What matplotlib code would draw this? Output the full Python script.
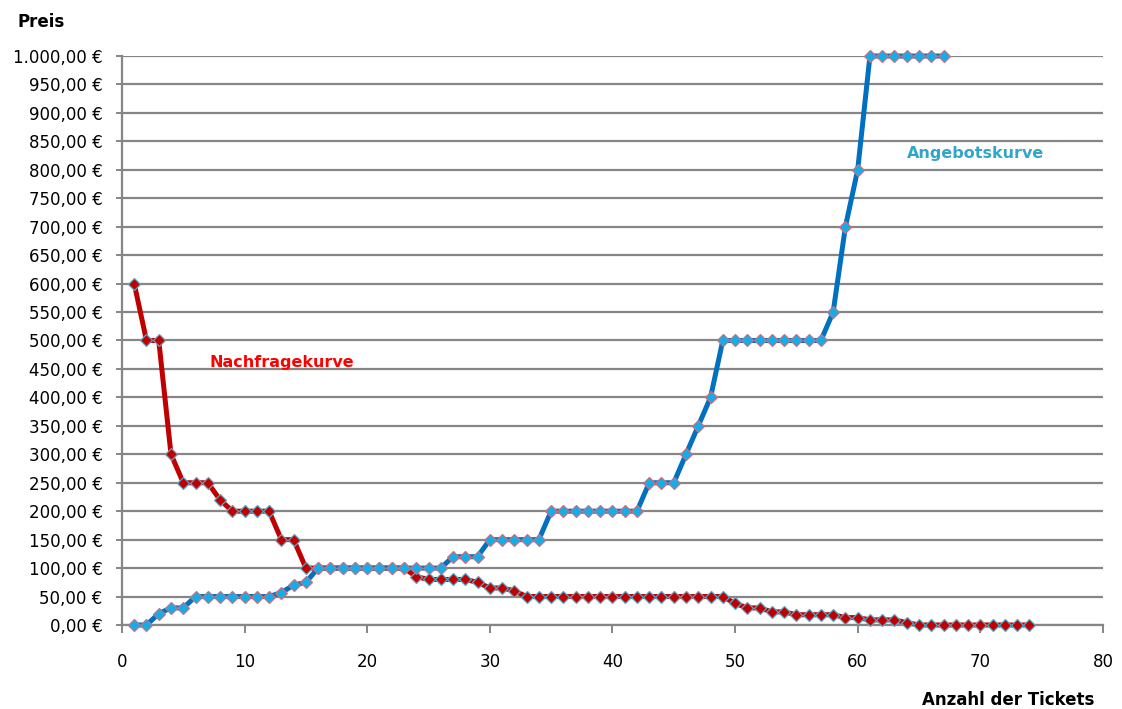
import numpy as np
import matplotlib.pyplot as plt
from matplotlib.ticker import FuncFormatter

# Nachfrage (Zahlungsbereitschaft je Ticket, absteigend)
nachfrage_preis = [
    600, 500, 500, 300, 250, 250, 250, 220, 200, 200,
    200, 200, 150, 150, 100, 100, 100, 100, 100, 100,
    100, 100, 100, 85, 80, 80, 80, 80, 75, 65,
    65, 60, 50, 50, 50, 50, 50, 50, 50, 50,
    50, 50, 50, 50, 50, 50, 50, 50, 50, 38,
    30, 30, 23, 23, 18, 18, 18, 18, 13, 13,
    9, 9, 9, 4, 0, 0, 0, 0, 0, 0,
    0, 0, 0, 0,
]

# Angebot (Mindestpreis je Ticket, aufsteigend)
angebot_preis = [
    0, 0, 20, 30, 30, 50, 50, 50, 50, 50,
    50, 50, 57, 70, 75, 100, 100, 100, 100, 100,
    100, 100, 100, 100, 100, 100, 120, 120, 120, 150,
    150, 150, 150, 150, 200, 200, 200, 200, 200, 200,
    200, 200, 250, 250, 250, 300, 350, 400, 500, 500,
    500, 500, 500, 500, 500, 500, 500, 550, 700, 800,
    1000, 1000, 1000, 1000, 1000, 1000, 1000,
]

nachfrage_x = np.arange(1, len(nachfrage_preis) + 1)
angebot_x = np.arange(1, len(angebot_preis) + 1)

fig = plt.figure(figsize=(11.22, 7.09), dpi=100)
ax = fig.add_axes([0.1087, 0.1185, 0.8743, 0.8025])

grid_col = "#868686"

ax.plot(nachfrage_x, nachfrage_preis, color="#C00000", lw=3.6,
        marker="D", ms=6, mfc="#C00000", mec="#5FA4C0", mew=0.9,
        clip_on=False, zorder=3)
ax.plot(angebot_x, angebot_preis, color="#0070C0", lw=3.6,
        marker="D", ms=6, mfc="#12AEEA", mec="#C87080", mew=0.9,
        clip_on=False, zorder=4)

ax.set_xlim(0, 80)
ax.set_ylim(0, 1000)
ax.set_xticks(np.arange(0, 81, 10))
ax.set_yticks(np.arange(0, 1001, 50))


def euro(v, pos):
    # deutsches Zahlenformat: 1.000,00 €
    s = f"{v:,.2f}".replace(",", "X").replace(".", ",").replace("X", ".")
    return f"{s} €"


ax.yaxis.set_major_formatter(FuncFormatter(euro))
ax.yaxis.grid(True, color=grid_col, lw=1.6)
ax.set_axisbelow(True)

for side in ("top", "right"):
    ax.spines[side].set_visible(False)
for side in ("left", "bottom"):
    ax.spines[side].set_color(grid_col)
    ax.spines[side].set_linewidth(1.6)

ax.tick_params(axis="y", length=4, width=1.4, color=grid_col, pad=10,
               labelsize=12)
ax.tick_params(axis="x", length=6, width=1.4, color=grid_col, pad=14,
               labelsize=12)

fig.text(0.037, 0.969, "Preis", fontsize=12, fontweight="bold",
         ha="center", va="center")
fig.text(0.899, 0.013, "Anzahl der Tickets", fontsize=12, fontweight="bold",
         ha="center", va="center")

ax.text(13.05, 462, "Nachfragekurve", color="#FF0000", fontsize=11.5,
        fontweight="bold", ha="center", va="center")
ax.text(69.6, 828, "Angebotskurve", color="#31A6C8", fontsize=11.5,
        fontweight="bold", ha="center", va="center")

fig.savefig("out.png", dpi=100)
